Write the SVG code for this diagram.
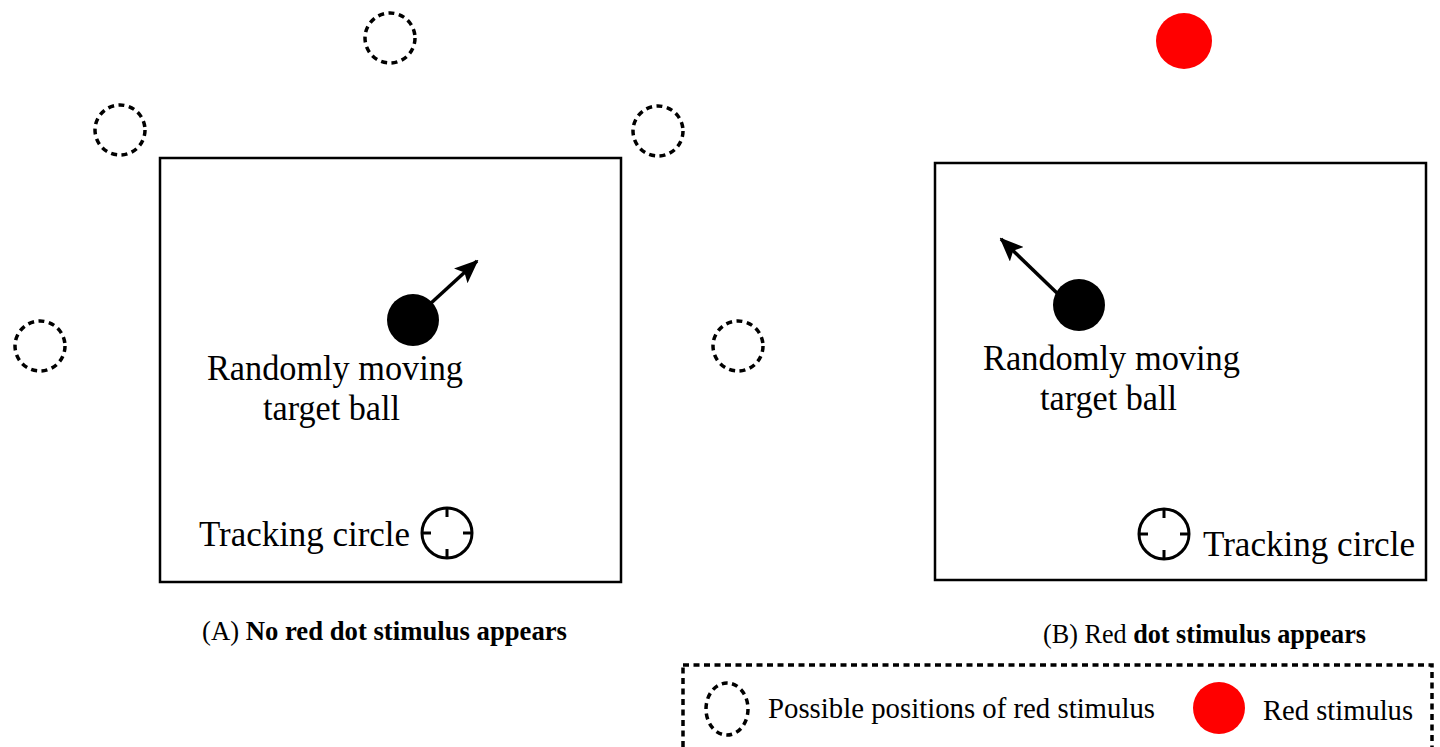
<svg xmlns="http://www.w3.org/2000/svg" width="1440" height="747" viewBox="0 0 1440 747">
<defs>
<style>
.box{fill:none;stroke:#000;stroke-width:2.5}
.dash{fill:none;stroke:#000;stroke-width:3.5;stroke-dasharray:6 4.5}
.lbl{font-family:"Liberation Serif",serif;font-size:36px;fill:#000}
.cap{font-family:"Liberation Serif",serif;font-size:27px;fill:#000}
.leg{font-family:"Liberation Serif",serif;font-size:29px;fill:#000}
.ball{fill:#000}
.red{fill:#ff0000}
.trk{fill:none;stroke:#000;stroke-width:3}
.arr{stroke:#000;stroke-width:3.5;fill:none;marker-end:url(#ah)}
</style>
<marker id="ah" viewBox="0 0 24 20" refX="22" refY="10" markerWidth="24" markerHeight="20" markerUnits="userSpaceOnUse" orient="auto">
<path d="M0,0 L24,10 L0,20 L5,10 Z" fill="#000"/>
</marker>
<g id="tc">
<circle r="25" class="trk"/>
<path d="M0,-25 V-16 M0,25 V16 M-25,0 H-16 M25,0 H16" class="trk"/>
</g>
</defs>

<g id="positions">
<circle cx="390" cy="38" r="25" class="dash"/>
<circle cx="120" cy="130" r="25" class="dash"/>
<circle cx="658" cy="131" r="25" class="dash"/>
<circle cx="40" cy="346" r="25" class="dash"/>
<circle cx="738" cy="346" r="25" class="dash"/>
</g>
<g id="red-stimulus"><circle cx="1184" cy="41" r="28" class="red"/></g>

<g id="panelA">
<rect x="160" y="158" width="461" height="424" class="box"/>
<circle cx="413" cy="320" r="26" class="ball"/>
<text x="207" y="380" textLength="256" lengthAdjust="spacingAndGlyphs" class="lbl">Randomly moving</text>
<text x="263" y="420" textLength="137" lengthAdjust="spacingAndGlyphs" class="lbl">target ball</text>
<text x="199" y="546" textLength="211" lengthAdjust="spacingAndGlyphs" class="lbl">Tracking circle</text>
<use href="#tc" x="447" y="533"/>
<text x="202" y="640" textLength="365" lengthAdjust="spacingAndGlyphs" class="cap">(A) <tspan font-weight="bold">No red dot stimulus appears</tspan></text>
</g>

<g id="panelB">
<rect x="935" y="163" width="491" height="417" class="box"/>
<circle cx="1079" cy="305" r="26" class="ball"/>
<text x="983" y="370" textLength="257" lengthAdjust="spacingAndGlyphs" class="lbl">Randomly moving</text>
<text x="1040" y="410" textLength="137" lengthAdjust="spacingAndGlyphs" class="lbl">target ball</text>
<use href="#tc" x="1164" y="534"/>
<text x="1203" y="556" textLength="212" lengthAdjust="spacingAndGlyphs" class="lbl">Tracking circle</text>
<text x="1043" y="643" textLength="323" lengthAdjust="spacingAndGlyphs" class="cap">(B) Red <tspan font-weight="bold">dot stimulus appears</tspan></text>
</g>

<g id="connectors">
<line x1="430" y1="304" x2="477" y2="261" class="arr"/>
<line x1="1058" y1="294" x2="1001" y2="239" class="arr"/>
</g>

<g id="legend">
<rect x="683" y="665" width="749" height="90" class="dash" stroke-width="3" stroke-dasharray="10 5"/>
<ellipse cx="727" cy="709" rx="21" ry="26" class="dash"/>
<text x="768" y="718" textLength="387" lengthAdjust="spacingAndGlyphs" class="leg">Possible positions of red stimulus</text>
<ellipse cx="1219" cy="708" rx="26" ry="26" class="red"/>
<text x="1263" y="720" textLength="150" lengthAdjust="spacingAndGlyphs" class="leg">Red stimulus</text>
</g>
</svg>
